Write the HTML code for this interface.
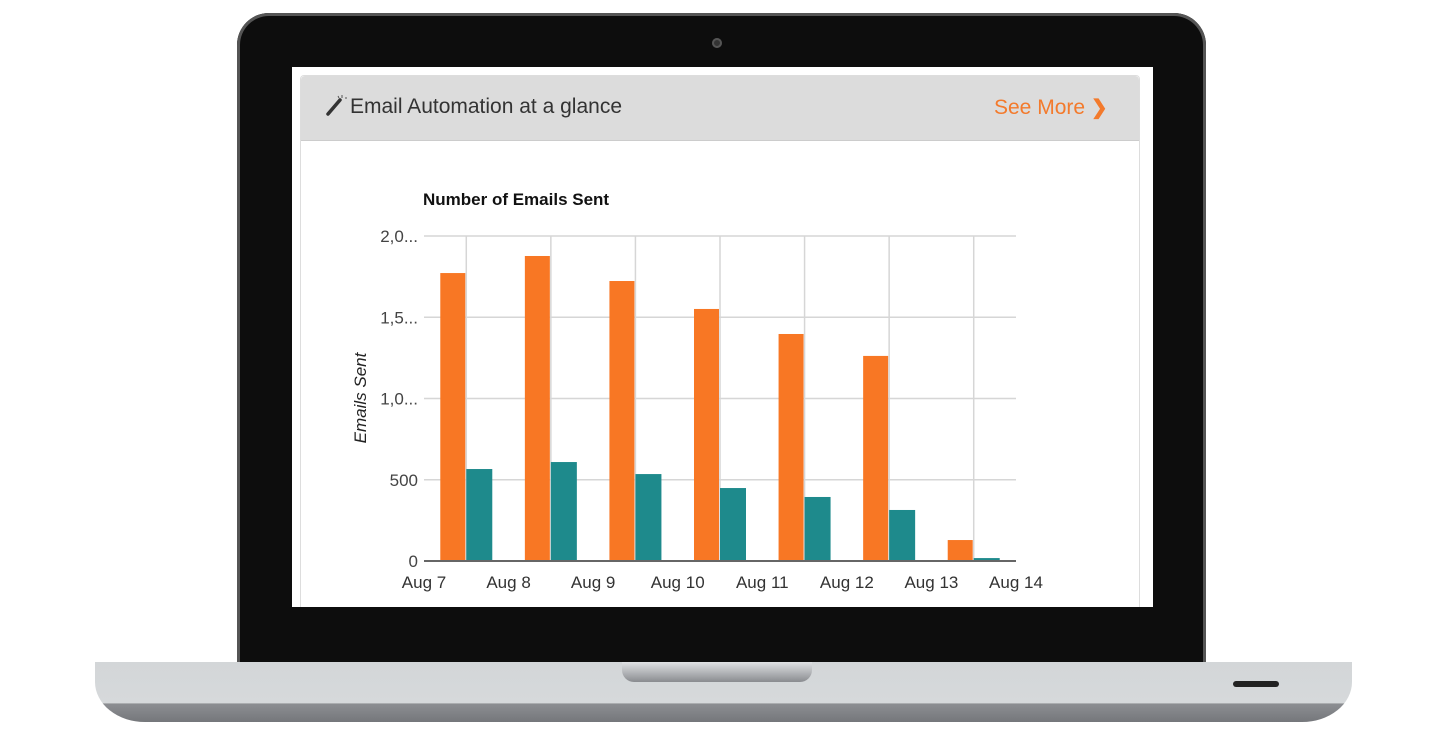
<!DOCTYPE html>
<html><head><meta charset="utf-8"><style>
body{margin:0;width:1446px;height:736px;background:#fff;position:relative;overflow:hidden;font-family:"Liberation Sans",sans-serif}
.abs{position:absolute}
</style></head><body>
<div class="abs" style="left:237px;top:13px;width:969px;height:660px;background:#0d0d0d;border-radius:32px 32px 0 0;box-shadow:inset 0 0 0 3px #555"></div>
<div class="abs" style="left:712px;top:38px;width:10px;height:10px;border-radius:50%;background:#333;box-shadow:inset 0 0 0 2px #555"></div>
<div class="abs" style="left:292px;top:67px;width:861px;height:540px;background:#fff"></div>
<div class="abs" style="left:300px;top:75px;width:838px;height:540px;border:1px solid #ddd;border-radius:4px;background:#fff"></div>
<div class="abs" style="left:301px;top:76px;width:838px;height:64px;background:#dcdcdc;border-radius:4px 4px 0 0;border-bottom:1px solid #ccc"></div>
<svg class="abs" style="left:325px;top:95px" width="22" height="22"><line x1="3" y1="19" x2="15" y2="5" stroke="#333" stroke-width="3.5" stroke-linecap="round"/><line x1="17" y1="0" x2="17" y2="3" stroke="#555" stroke-width="1"/><line x1="20" y1="3" x2="22" y2="3" stroke="#555" stroke-width="1"/><line x1="13" y1="1" x2="14" y2="3" stroke="#555" stroke-width="1"/></svg>
<div class="abs" style="left:350px;top:95px;font-size:21px;color:#333">Email Automation at a glance</div>
<div class="abs" style="left:994px;top:95px;font-size:21px;color:#f37a2c">See More <b style="font-size:20px">&#x276F;</b></div>
<svg class="abs" style="left:0;top:0" width="1446" height="736" id="chart"></svg>
<div class="abs" style="left:240px;top:607px;width:963px;height:56px;background:#0d0d0d"></div>
<div class="abs" style="left:95px;top:662px;width:1257px;height:60px;border-radius:0 0 50px 50px/0 0 40px 40px;background:linear-gradient(to bottom,#d3d6d8 0%,#d6d9db 68%,#8c8e92 70%,#75777b 100%)"></div>
<div class="abs" style="left:622px;top:662px;width:190px;height:20px;border-radius:0 0 12px 12px;background:linear-gradient(#e0e2e4,#8a8c90)"></div>
<div class="abs" style="left:1233px;top:681px;width:46px;height:6px;border-radius:3px;background:#222"></div>
<script>
const categories=["Aug 7","Aug 8","Aug 9","Aug 10","Aug 11","Aug 12","Aug 13"];
const tickLabels=["Aug 7","Aug 8","Aug 9","Aug 10","Aug 11","Aug 12","Aug 13","Aug 14"];
const sentValues=[1772,1877,1723,1551,1397,1262,129];
const openedValues=[566,609,535,449,394,314,18];
const yTicks=[0,500,1000,1500,2000];
const yTickLabels=["0","500","1,0...","1,5...","2,0..."];
const svg=document.getElementById('chart');const NS='http://www.w3.org/2000/svg';
const L=424,R=1016,T=236,B=561,yMax=2000;
const band=(R-L)/categories.length;
const y=v=>B-(v/yMax)*(B-T);
const x=i=>L+i*band;
function mk(t,a){const e=document.createElementNS(NS,t);for(const k in a)e.setAttribute(k,a[k]);svg.appendChild(e);return e;}
yTicks.forEach((v,i)=>{const g=mk('line',{x1:L,x2:R,y1:y(v),y2:y(v),stroke:'#d6d6d6','stroke-width':1.5});

const t=mk('text',{x:418,y:y(v)+6,'text-anchor':'end','font-size':17,fill:'#444','font-family':'Liberation Sans'});t.textContent=yTickLabels[i];
});
categories.forEach((c,i)=>{const g=mk('line',{x1:x(i)+band/2,x2:x(i)+band/2,y1:T,y2:B,stroke:'#d6d6d6','stroke-width':1.5});
});
categories.forEach((c,i)=>{const cx=x(i)+band/2;
const a=mk('rect',{x:cx-26,y:y(sentValues[i]),width:25,height:B-y(sentValues[i]),fill:'#f87724'});

const b=mk('rect',{x:cx,y:y(openedValues[i]),width:26,height:B-y(openedValues[i]),fill:'#1e8a8c'});
});
const ax=mk('line',{x1:L,x2:R,y1:B,y2:B,stroke:'#666','stroke-width':2});

tickLabels.forEach((s,i)=>{const t=mk('text',{x:x(i),y:588,'text-anchor':'middle','font-size':17,fill:'#333','font-family':'Liberation Sans'});t.textContent=s;
});
const tt=mk('text',{x:423,y:205,'font-size':17,'font-weight':'bold',fill:'#111','font-family':'Liberation Sans'});tt.textContent='Number of Emails Sent';

const yt=mk('text',{x:0,y:0,transform:'translate(366,398) rotate(-90)','text-anchor':'middle','font-size':17,'font-style':'italic',fill:'#222','font-family':'Liberation Sans'});yt.textContent='Emails Sent';

</script>
</body></html>
